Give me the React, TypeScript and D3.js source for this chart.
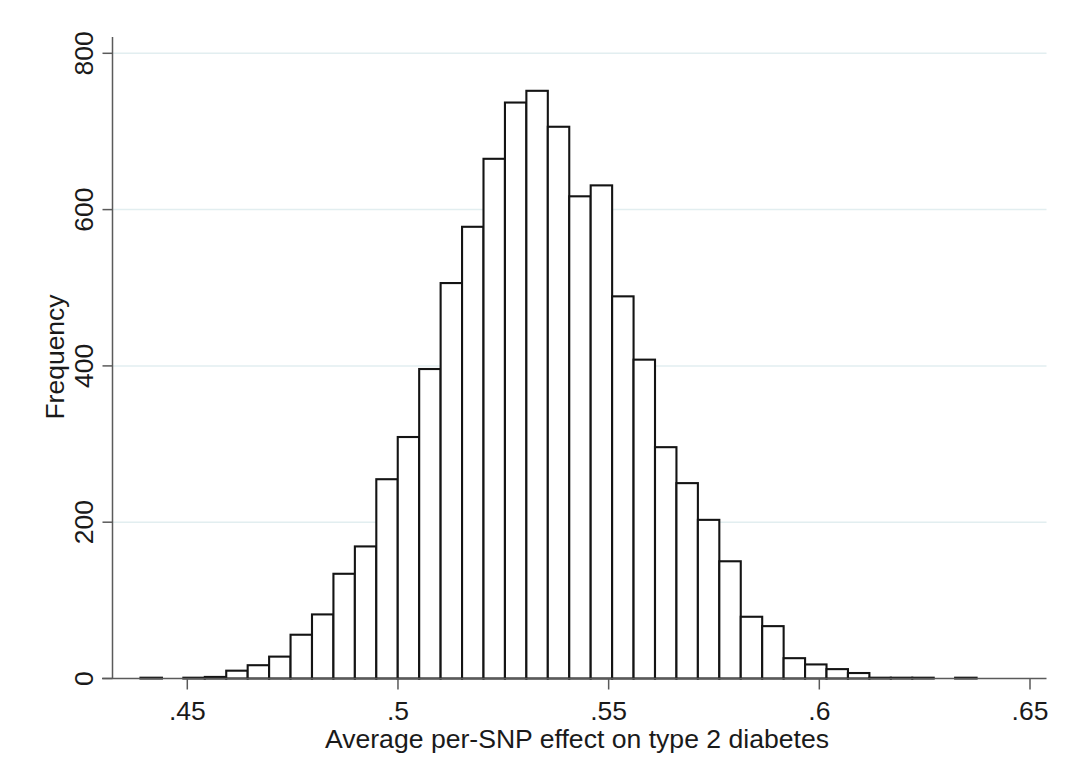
import React from "react";
import * as d3 from "d3";

const binStart = 0.43889;
const binWidth = 0.005088;
const frequencies = [
  1, 0, 1, 2, 10, 17, 28, 56, 82, 134, 169, 255, 309, 396, 506, 578, 665, 737,
  752, 706, 617, 631, 489, 408, 296, 250, 203, 150, 79, 67, 26, 18, 12, 7, 1, 1,
  1, 0, 1,
];
const xTicks = [0.45, 0.5, 0.55, 0.6, 0.65];
const xTickLabels = [".45", ".5", ".55", ".6", ".65"];
const yTicks = [0, 200, 400, 600, 800];
const xTitle = "Average per-SNP effect on type 2 diabetes";
const yTitle = "Frequency";

const W = 1065;
const H = 778;
const FONT = "'Liberation Sans', Arial, sans-serif";

export default function App() {
  const x = d3.scaleLinear().domain([0.45, 0.65]).range([187.3, 1030]);
  const y = d3.scaleLinear().domain([0, 800]).range([678.5, 53.3]);
  const plotLeft = 112.5;
  const plotRight = 1046.5;
  const plotTop = 37;
  const base = y(0);

  const bins = frequencies.map((f, i) => ({
    x0: binStart + i * binWidth,
    x1: binStart + (i + 1) * binWidth,
    f,
  }));

  return (
    <svg
      width={W}
      height={H}
      style={{ position: "absolute", left: 0, top: 0, background: "#fff" }}
      fontFamily={FONT}
    >
      <rect x={0} y={0} width={W} height={H} fill="#fff" />
      {yTicks
        .filter((t) => t > 0)
        .map((t) => (
          <line
            key={"g" + t}
            x1={plotLeft}
            x2={plotRight}
            y1={y(t)}
            y2={y(t)}
            stroke="#e2eef0"
            strokeWidth={1.5}
          />
        ))}
      {bins
        .filter((b) => b.f > 0)
        .map((b, i) => (
          <rect
            key={"b" + i}
            x={x(b.x0)}
            y={y(b.f)}
            width={x(b.x1) - x(b.x0)}
            height={base - y(b.f)}
            fill="#fff"
            stroke="#141414"
            strokeWidth={2.1}
          />
        ))}
      <line
        x1={plotLeft}
        x2={plotLeft}
        y1={plotTop}
        y2={base}
        stroke="#5a5a5a"
        strokeWidth={1.5}
      />
      <line
        x1={102}
        x2={plotRight}
        y1={base}
        y2={base}
        stroke="#5a5a5a"
        strokeWidth={1.5}
      />
      {yTicks.map((t) => (
        <g key={"y" + t}>
          <line
            x1={plotLeft - 10}
            x2={plotLeft}
            y1={y(t)}
            y2={y(t)}
            stroke="#5a5a5a"
            strokeWidth={1.5}
          />
          <text
            transform={`translate(93,${y(t)}) rotate(-90)`}
            textAnchor="middle"
            fontSize={26.5}
            fill="#1a1a1a"
          >
            {String(t)}
          </text>
        </g>
      ))}
      {xTicks.map((t, i) => (
        <g key={"x" + t}>
          <line
            x1={x(t)}
            x2={x(t)}
            y1={base}
            y2={base + 11}
            stroke="#5a5a5a"
            strokeWidth={1.5}
          />
          <text
            x={x(t)}
            y={720}
            textAnchor="middle"
            fontSize={26.5}
            fill="#1a1a1a"
          >
            {xTickLabels[i]}
          </text>
        </g>
      ))}
      <text x={577} y={748} textAnchor="middle" fontSize={26.6} fill="#1a1a1a">
        {xTitle}
      </text>
      <text
        transform={`translate(63.5,357) rotate(-90)`}
        textAnchor="middle"
        fontSize={26.5}
        fill="#1a1a1a"
      >
        {yTitle}
      </text>
    </svg>
  );
}
